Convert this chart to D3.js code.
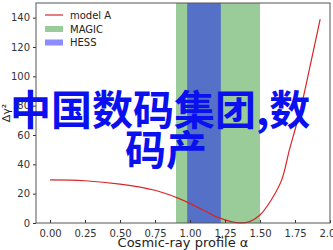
<!DOCTYPE html>
<html>
<head>
<meta charset="utf-8">
<script src="https://cdn.jsdelivr.net/npm/d3@7"></script>
<style>
  body { margin: 0; background: #fff; }
  svg { display: block; font-family: "DejaVu Sans", sans-serif; }
</style>
</head>
<body>
<svg id="chart" width="333" height="250"></svg>
<script>
// model A curve
var alphaVals = [0, 0.25, 0.5, 0.75, 0.9, 1.0, 1.1, 1.2, 1.3, 1.36, 1.42, 1.5, 1.58, 1.655, 1.71, 1.76, 1.81, 1.86, 1.93];
var chiVals   = [29.4, 28.8, 26.5, 22.3, 17.5, 13.4, 8.5, 3.8, 0.8, 0.1, 0.8, 5.5, 15.7, 29.4, 49.9, 67, 86, 108, 139];

// bands
var bandNames = ["MAGIC", "HESS"];
var bandLo = [0.9, 0.98];
var bandHi = [1.5, 1.22];
var bandColors = ["#008000", "#0000ff"];
var bandOpacity = [0.4, 0.45];

var xTicks = [0, 0.25, 0.5, 0.75, 1.0, 1.25, 1.5, 1.75, 2.0];
var yTicks = [0, 20, 40, 60, 80, 100, 120, 140];

var titleLines = ["中国数码集团,数", "码产"];

(function () {
    var svg = d3.select("#chart");
    var mLeft = 36, mRight = 330, mTop = 3, mBottom = 223;

    var x = d3.scaleLinear().domain([-0.1, 2.0]).range([mLeft, mRight]);
    var y = d3.scaleLinear().domain([0, 150]).range([mBottom, mTop]);

    // bands
    svg.append("g").selectAll("rect")
        .data(bandNames)
        .enter()
        .append("rect")
        .attr("x", function (d, i) { return x(bandLo[i]); })
        .attr("width", function (d, i) { return x(bandHi[i]) - x(bandLo[i]); })
        .attr("y", mTop)
        .attr("height", mBottom - mTop)
        .attr("fill", function (d, i) { return bandColors[i]; })
        .attr("fill-opacity", function (d, i) { return bandOpacity[i]; });

    // curve
    var line = d3.line()
        .x(function (d, i) { return x(alphaVals[i]); })
        .y(function (d) { return y(d); })
        .curve(d3.curveCatmullRom);

    svg.append("path")
        .attr("d", line(chiVals))
        .attr("fill", "none")
        .attr("stroke", "#d62728")
        .attr("stroke-width", 1.2);

    // axes
    var xAxis = d3.axisBottom(x).tickValues(xTicks).tickFormat(d3.format(".2f"))
        .tickSizeInner(-3).tickSizeOuter(0).tickPadding(7);
    var gx = svg.append("g").attr("transform", "translate(0," + mBottom + ")").call(xAxis);
    gx.select(".domain").remove();
    gx.selectAll("line").attr("stroke", "#333");
    gx.selectAll("text").attr("font-size", 10).attr("fill", "#333")
        .attr("font-family", "DejaVu Sans");

    var yAxis = d3.axisLeft(y).tickValues(yTicks).tickSizeInner(3).tickSizeOuter(0).tickPadding(3);
    var gy = svg.append("g").attr("transform", "translate(" + mLeft + ",0)").call(yAxis);
    gy.select(".domain").remove();
    gy.selectAll("line").attr("stroke", "#333");
    gy.selectAll("text").attr("font-size", 10).attr("fill", "#333")
        .attr("font-family", "DejaVu Sans");

    // frame
    svg.append("rect")
        .attr("x", mLeft).attr("y", mTop)
        .attr("width", mRight - mLeft).attr("height", mBottom - mTop)
        .attr("fill", "none").attr("stroke", "#555").attr("stroke-width", 1);

    // axis labels
    svg.append("text")
        .attr("x", (mLeft + mRight) / 2).attr("y", 247)
        .attr("text-anchor", "middle")
        .attr("font-size", 13).attr("fill", "#222")
        .text("Cosmic-ray profile α");

    svg.append("text")
        .attr("transform", "translate(10," + ((mTop + mBottom) / 2) + ") rotate(-90)")
        .attr("text-anchor", "middle")
        .attr("font-size", 11).attr("fill", "#222")
        .text("Δγ²");

    // legend
    var lg = svg.append("g");
    lg.append("line")
        .attr("x1", 45).attr("x2", 63).attr("y1", 15).attr("y2", 15)
        .attr("stroke", "#d62728").attr("stroke-width", 1.2);
    lg.append("text").attr("x", 70).attr("y", 18.5).attr("font-size", 10).attr("fill", "#222").text("model A");
    bandNames.forEach(function (name, i) {
        var yy = 29 + i * 13.5;
        lg.append("rect")
            .attr("x", 45).attr("y", yy - 3).attr("width", 18).attr("height", 6)
            .attr("fill", bandColors[i]).attr("fill-opacity", bandOpacity[i]);
        lg.append("text").attr("x", 70).attr("y", yy + 3.5).attr("font-size", 10).attr("fill", "#222").text(name);
    });

    // big overlay text
    var tg = svg.append("g")
        .attr("font-family", "Noto Sans CJK SC")
        .attr("font-weight", "bold")
        .attr("font-size", 41)
        .attr("fill", "#0a10ee");
    tg.append("text").attr("x", 10).attr("y", 125).text(titleLines[0]);
    tg.append("text").attr("x", 166).attr("y", 165).attr("text-anchor", "middle").text(titleLines[1]);
})();
</script>
</body>
</html>
